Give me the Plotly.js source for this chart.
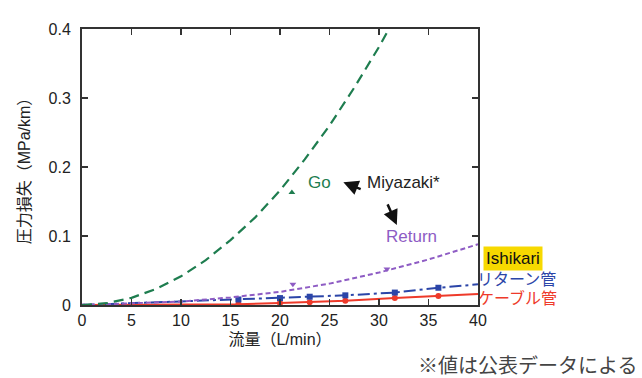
<!DOCTYPE html>
<html><head><meta charset="utf-8">
<script src="https://cdn.plot.ly/plotly-3.0.1.min.js"></script>
<style>body{margin:0;background:#fff}</style>
</head><body><div id="c" style="width:642px;height:378px"></div>
<script>
const goX = [0, 2.5, 5, 7.5, 10, 12.5, 15, 17.5, 20, 22.5, 25, 27.5, 30, 31];
const goY = [0, 0.0026, 0.0104, 0.0234, 0.0416, 0.065, 0.094, 0.127, 0.166, 0.211, 0.26, 0.315, 0.374, 0.40];
const goMarkX = [21.2];
const goMarkY = [0.163];
const retX = [0, 5, 10, 15, 20, 25, 30, 35, 40];
const retY = [0, 0.002, 0.005, 0.011, 0.019, 0.031, 0.047, 0.066, 0.088];
const retMarkX = [0, 21.3, 30.8];
const retMarkY = [0, 0.030, 0.052];
const rtX = [0, 15.8, 20, 23, 26.6, 31.6, 36, 40];
const rtY = [0, 0.008, 0.010, 0.012, 0.014, 0.018, 0.025, 0.030];
const rtMarkX = [15.8, 20, 23, 26.6, 31.6, 36];
const rtMarkY = [0.008, 0.010, 0.012, 0.014, 0.018, 0.025];
const cbX = [0, 15.8, 20, 23, 26.6, 31.6, 36, 40];
const cbY = [0, 0.001, 0.003, 0.004, 0.006, 0.010, 0.013, 0.016];
const cbMarkX = [15.8, 20, 23, 26.6, 31.6, 36];
const cbMarkY = [0.001, 0.003, 0.004, 0.006, 0.010, 0.013];
const xTicks = [0, 5, 10, 15, 20, 25, 30, 35, 40];
const yTicks = [0, 0.1, 0.2, 0.3, 0.4];
const yTickText = ['0', '0.1', '0.2', '0.3', '0.4'];

const F = '"Liberation Sans", Arial, "Noto Sans CJK JP", sans-serif';
const G = '#1e7d4f', P = '#8e5cc4', B = '#2b45a8', R = '#ee3a2a';

const traces = [
  {x: cbX, y: cbY, mode: 'lines', line: {color: R, width: 2}},
  {x: cbMarkX, y: cbMarkY, mode: 'markers', marker: {color: R, size: 6, symbol: 'circle'}},
  {x: rtX, y: rtY, mode: 'lines', line: {color: B, width: 2, dash: '12px,4px,3px,4px'}},
  {x: rtMarkX, y: rtMarkY, mode: 'markers', marker: {color: B, size: 6, symbol: 'square'}},
  {x: retX, y: retY, mode: 'lines', line: {color: P, width: 2, dash: '5px,3px'}},
  {x: retMarkX, y: retMarkY, mode: 'markers', marker: {color: P, size: 6, symbol: 'triangle-down'}},
  {x: goX, y: goY, mode: 'lines', line: {color: G, width: 2.2, dash: '10px,6px'}},
  {x: goMarkX, y: goMarkY, mode: 'markers', marker: {color: G, size: 6, symbol: 'triangle-up'}}
];

const layout = {
  width: 642, height: 378,
  margin: {l: 82, r: 164, t: 29, b: 73},
  showlegend: false,
  paper_bgcolor: '#fff', plot_bgcolor: '#fff',
  font: {family: F, color: '#222'},
  xaxis: {
    range: [0, 40], tickvals: xTicks, ticks: 'inside', ticklen: 6, tickwidth: 1.5,
    tickcolor: '#333', linecolor: '#333', linewidth: 2, showline: true, mirror: 'ticks',
    showgrid: false, zeroline: false, tickfont: {size: 16, family: F, color: '#222'},
    title: {text: '流量（L/min）', font: {size: 16, family: F, color: '#222'}, standoff: 6}
  },
  yaxis: {
    range: [0, 0.4], tickvals: yTicks, ticktext: yTickText, ticks: 'inside', ticklen: 6, tickwidth: 1.5,
    tickcolor: '#333', linecolor: '#333', linewidth: 2, showline: true, mirror: 'ticks',
    showgrid: false, zeroline: false, tickfont: {size: 16, family: F, color: '#222'},
    ticklabelstandoff: 6,
    title: {text: '圧力損失（MPa/km）', font: {size: 16, family: F, color: '#222'}, standoff: 14}
  },
  annotations: [
    {x: 24.0, y: 0.178, text: 'Go', showarrow: false, font: {size: 17, color: G, family: F}},
    {x: 32.5, y: 0.177, text: 'Miyazaki*', showarrow: false, font: {size: 17, color: '#222', family: F}},
    {x: 33.3, y: 0.100, text: 'Return', showarrow: false, font: {size: 17, color: P, family: F}},
    {x: 26.4, y: 0.178, ax: 28.3, ay: 0.167, axref: 'x', ayref: 'y', text: '', showarrow: true,
      arrowhead: 2, arrowsize: 1.2, arrowwidth: 2.5, arrowcolor: '#111'},
    {x: 31.8, y: 0.116, ax: 30.8, ay: 0.148, axref: 'x', ayref: 'y', text: '', showarrow: true,
      arrowhead: 2, arrowsize: 1.2, arrowwidth: 2.5, arrowcolor: '#111'},
    {xref: 'paper', yref: 'paper', x: 1.088, y: 0.170, xanchor: 'center', yanchor: 'middle',
      text: 'Ishikari', showarrow: false, bgcolor: '#f7d900', borderpad: 2,
      font: {size: 17, color: '#111', family: F}},
    {xref: 'paper', yref: 'paper', x: 1.098, y: 0.094, xanchor: 'center', yanchor: 'middle',
      text: 'リターン管', showarrow: false, font: {size: 16, color: B, family: F}},
    {xref: 'paper', yref: 'paper', x: 1.101, y: 0.025, xanchor: 'center', yanchor: 'middle',
      text: 'ケーブル管', showarrow: false, font: {size: 16, color: R, family: F}},
    {xref: 'paper', yref: 'paper', x: 1.404, y: -0.214, xanchor: 'right', yanchor: 'middle',
      text: '※値は公表データによる', showarrow: false, borderpad: 0,
      font: {size: 20, color: '#444', family: '"Noto Sans CJK JP", sans-serif'}}
  ]
};
Plotly.newPlot('c', traces, layout, {displayModeBar: false, staticPlot: true});
</script></body></html>
